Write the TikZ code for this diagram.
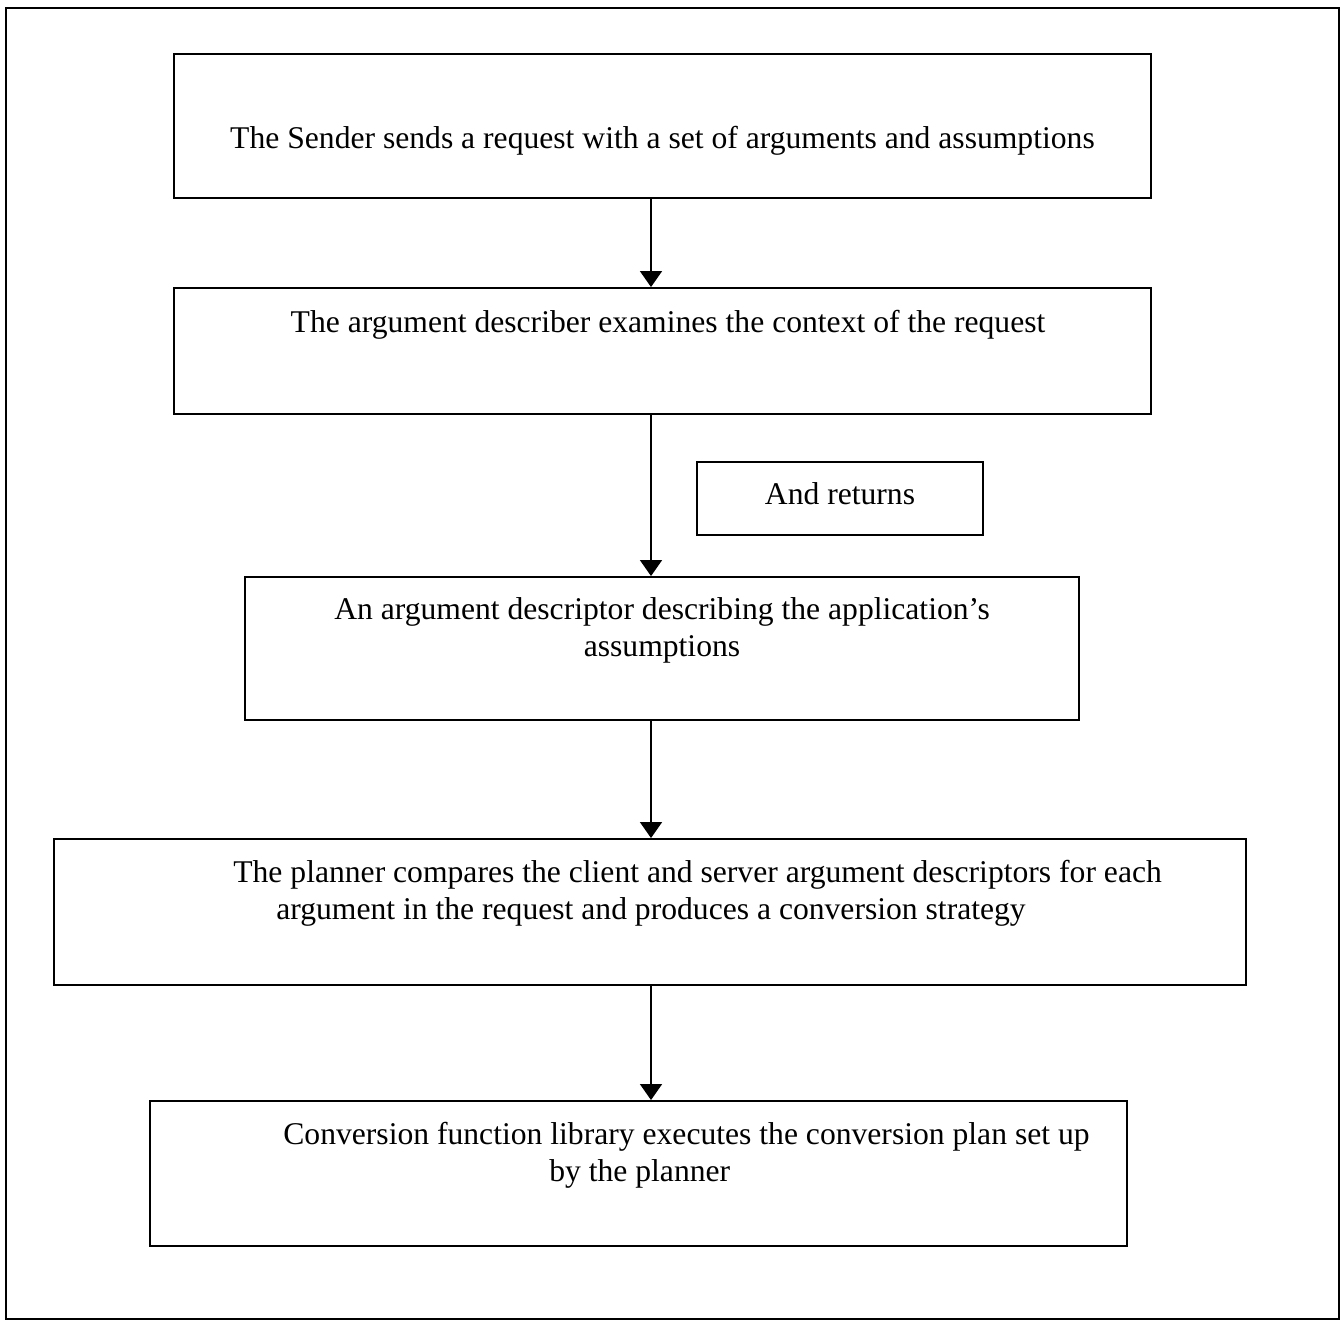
\documentclass[tikz,border=0pt]{standalone}
\usepackage{fontspec}
\setmainfont{Liberation Serif}
\usepackage{tikz}
\usetikzlibrary{arrows.meta}
\usetikzlibrary{positioning}

\begin{document}
\begin{tikzpicture}[
 x=0.02cm, y=-0.02cm,
 block/.style = {draw, rectangle, line width=1.1pt, inner sep=0pt},
 txt/.style = {inner sep=0pt, font=\fontsize{18pt}{20.5pt}\selectfont},
 arr/.style = {line width=0.9pt, -{Triangle[length=0.32cm, width=0.44cm]}},
                        ]
    \useasboundingbox (0,0) rectangle (1341,1321);
    \draw [line width=0.9pt] (6,8) rectangle (1339,1319);

    \node [block, minimum width=19.54cm, minimum height=2.88cm] at (662.5,126) (sender) {};
    \node [txt, anchor=base] at (662.5,149) {The Sender sends a request with a set of arguments and assumptions};

    \node [block, minimum width=19.54cm, minimum height=2.52cm] at (662.5,351) (describer) {};
    \node [txt, anchor=base] at (668,332) {The argument describer examines the context of the request};

    \node [block, minimum width=5.72cm, minimum height=1.46cm] at (840,498.5) (returns) {};
    \node [txt, anchor=base] at (840,504) {And returns};

    \node [block, minimum width=16.68cm, minimum height=2.86cm] at (662,648.5) (descriptor) {};
    \node [txt, anchor=base, align=center] at (662,656) {An argument descriptor describing the application’s\\assumptions};

    \node [block, minimum width=23.84cm, minimum height=2.92cm] at (650,912) (planner) {};
    \node [txt, anchor=base west, align=left] at (233,919) {The planner compares the client and server argument descriptors for each\\\hspace*{0.86cm}argument in the request and produces a conversion strategy};

    \node [block, minimum width=19.54cm, minimum height=2.9cm] at (638.5,1173.5) (library) {};
    \node [txt, anchor=base west, align=left] at (283,1181) {Conversion function library executes the conversion plan set up\\\hspace*{5.32cm}by the planner};

    \coordinate (axis) at (651,0);
    \draw [arr] (sender.south -| axis) -- (describer.north -| axis);
    \draw [arr] (describer.south -| axis) -- (descriptor.north -| axis);
    \draw [arr] (descriptor.south -| axis) -- (planner.north -| axis);
    \draw [arr] (planner.south -| axis) -- (library.north -| axis);
\end{tikzpicture}
\end{document}
